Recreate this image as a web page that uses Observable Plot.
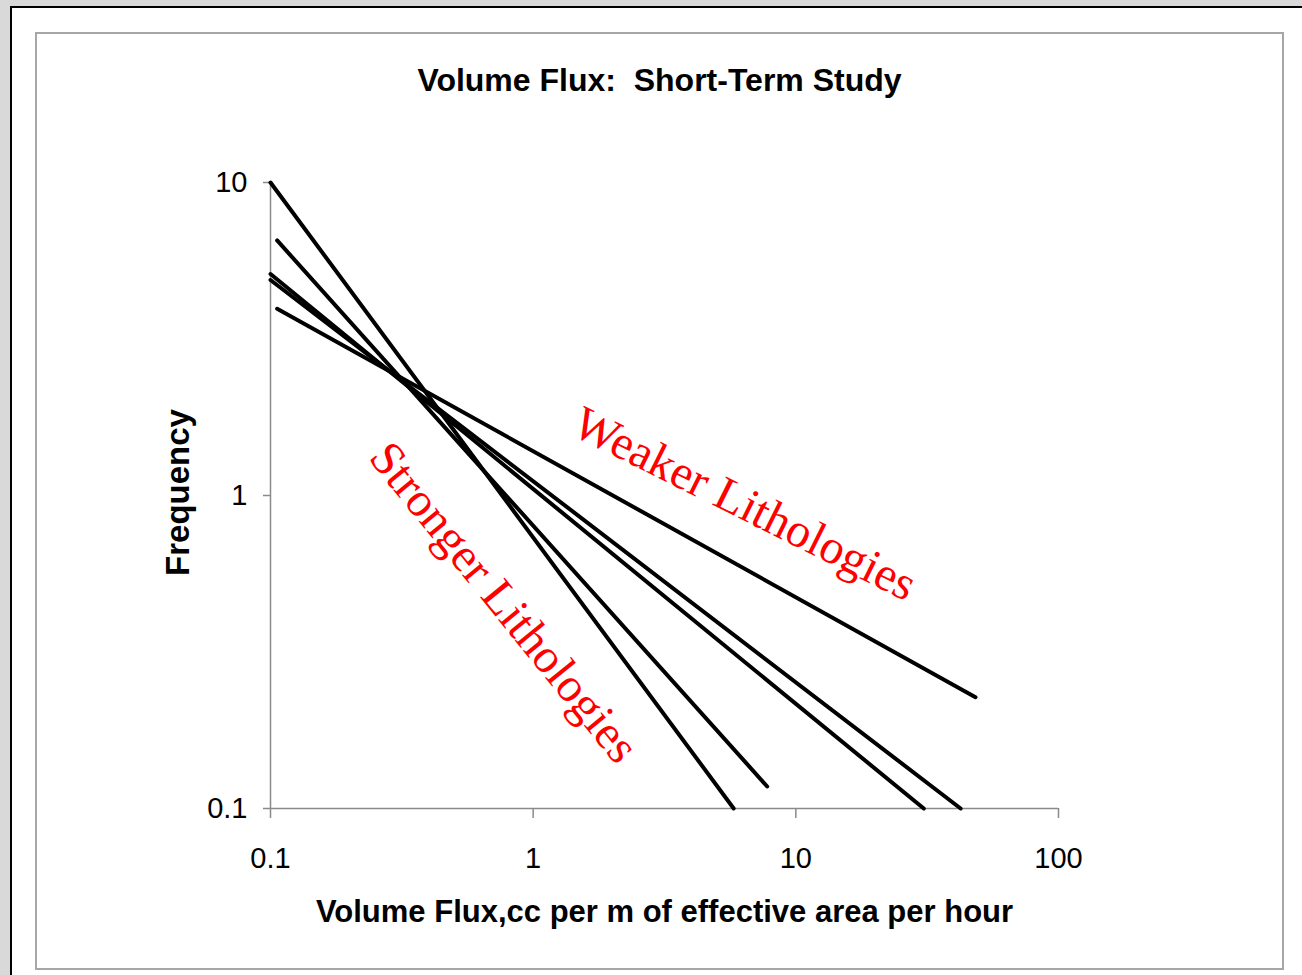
<!DOCTYPE html>
<html><head><meta charset="utf-8">
<script src="https://cdn.jsdelivr.net/npm/d3@7"></script>
<script src="https://cdn.jsdelivr.net/npm/@observablehq/plot@0.6"></script>
<style>
html,body{margin:0;padding:0;}
body{width:1302px;height:975px;background:#d9d9d9;position:relative;overflow:hidden;font-family:"Liberation Sans",Arial,sans-serif;}
#sheet{position:absolute;left:10px;top:6px;width:1292px;height:969px;background:#fff;border-left:2px solid #000;border-top:2px solid #000;box-sizing:border-box;}
#frame{position:absolute;left:35px;top:32px;width:1249px;height:938px;border:2px solid #a6a6a6;box-sizing:border-box;}
#title{position:absolute;left:36px;width:1247px;top:62px;text-align:center;font-weight:bold;font-size:32px;white-space:pre;color:#000;}
#chart{position:absolute;left:36px;top:120px;}
</style></head><body>
<div id="sheet"></div>
<div id="frame"></div>
<div id="title"></div>
<div id="chart"></div>
<script>
// ---- data ----
const titleText = "Volume Flux:  Short-Term Study";
const xLabel = "Volume Flux,cc per m of effective area per hour";
const yLabel = "Frequency";
const xTicks = [0.1, 1, 10, 100];
const yTicks = [0.1, 1, 10];
// five fitted power-law lines (start and end points)
const seriesIds = ["A", "B", "C1", "C2", "D"];
const xStart = [0.1, 0.106, 0.1, 0.1, 0.106];
const yStart = [10, 6.53, 5.10, 4.88, 3.95];
const xEnd = [5.80, 7.78, 30.7, 42.4, 48.3];
const yEnd = [0.1, 0.1176, 0.1, 0.1, 0.2268];
// annotations
const noteText = ["Weaker Lithologies", "Stronger Lithologies"];
const noteX = [6.4, 0.775];
const noteY = [0.94, 0.455];

const rows = seriesIds.map((id, i) => ({id, x1: xStart[i], y1: yStart[i], x2: xEnd[i], y2: yEnd[i]}));
const notes = noteText.map((t, i) => ({text: t, x: noteX[i], y: noteY[i]}));

document.getElementById("title").textContent = titleText;

const chart = Plot.plot({
  width: 1247,
  height: 840,
  marginLeft: 234,
  marginRight: 225,
  marginTop: 62,
  marginBottom: 152,
  style: {fontFamily: "'Liberation Sans', Arial, sans-serif", fontSize: "29px", color: "#000", background: "transparent", overflow: "visible"},
  x: {type: "log", domain: [0.1, 100]},
  y: {type: "log", domain: [0.1, 10]},
  marks: [
    Plot.ruleX([xTicks[0]], {stroke: "#8a8a8a", strokeWidth: 1.5}),
    Plot.ruleY([yTicks[0]], {stroke: "#8a8a8a", strokeWidth: 1.5}),
    Plot.axisX(xTicks, {tickSize: 10, tickPadding: 29, stroke: "#8a8a8a", fill: "#000", strokeWidth: 1.5, fontSize: 29, tickFormat: d => String(d), label: null}),
    Plot.axisY(yTicks, {tickSize: 7, tickPadding: 16, stroke: "#8a8a8a", fill: "#000", strokeWidth: 1.5, fontSize: 29, tickFormat: d => String(d), label: null}),
    Plot.link(rows, {x1: "x1", y1: "y1", x2: "x2", y2: "y2", stroke: "#000", strokeWidth: 4, strokeLinecap: "round"}),
    Plot.text([notes[0]], {x: "x", y: "y", text: "text", rotate: 26.5, fill: "#ff0000", fontSize: 48, fontFamily: "'Liberation Serif', 'Times New Roman', serif"}),
    Plot.text([notes[1]], {x: "x", y: "y", text: "text", rotate: 51, fill: "#ff0000", fontSize: 48, fontFamily: "'Liberation Serif', 'Times New Roman', serif"}),
    Plot.text([xLabel], {frameAnchor: "bottom", dy: 113, fontSize: 31, fontWeight: "bold", fill: "#000"}),
    Plot.text([yLabel], {frameAnchor: "left", textAnchor: "middle", dx: -92, dy: -3, rotate: -90, fontSize: 33, fontWeight: "bold", fill: "#000"})
  ]
});
document.getElementById("chart").appendChild(chart);
</script>
</body></html>
